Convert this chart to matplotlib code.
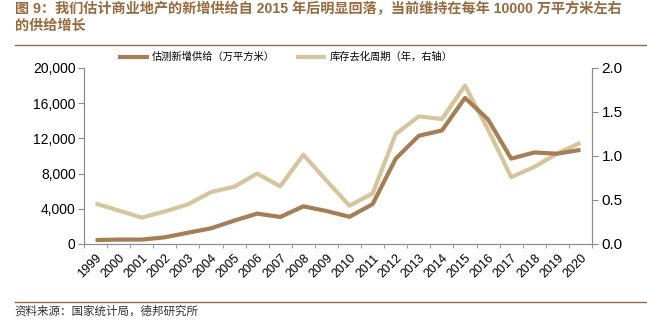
import numpy as np
import matplotlib.pyplot as plt
from matplotlib.ticker import FuncFormatter, FixedLocator

plt.rcParams['font.family'] = ['Liberation Sans', 'Noto Sans CJK SC', 'DejaVu Sans']

years = [str(y) for y in range(1999, 2021)]
# 估测新增供给（万平方米）
new_supply = [450, 500, 500, 760, 1280, 1780, 2650, 3450, 3070, 4280, 3750,
              3090, 4530, 9700, 12300, 12900, 16600, 14150, 9700, 10400, 10260, 10700]
# 库存去化周期（年）
destock_cycle = [0.46, 0.38, 0.30, 0.37, 0.45, 0.59, 0.65, 0.80, 0.655, 1.015, 0.72,
                 0.435, 0.575, 1.25, 1.45, 1.42, 1.80, 1.30, 0.76, 0.875, 1.03, 1.15]

title = "图 9：我们估计商业地产的新增供给自 2015 年后明显回落，当前维持在每年 10000 万平方米左右\n的供给增长"
source = "资料来源：国家统计局，德邦研究所"

brown = '#A87D52'
tan = '#D8C49B'
title_color = '#9A6A3C'
axis_gray = '#8C8C8C'
cjk = ['Noto Sans CJK SC', 'DejaVu Sans']

fig = plt.figure(figsize=(6.47, 3.23), dpi=100)
ax = fig.add_axes([0.1298, 0.2446, 0.7852, 0.5449])
ax2 = ax.twinx()

x = np.arange(len(years))
l1, = ax.plot(x, new_supply, color=brown, lw=3, solid_capstyle='butt',
              label='估测新增供给（万平方米）', zorder=3)
l2, = ax2.plot(x, destock_cycle, color=tan, lw=3, solid_capstyle='butt',
               label='库存去化周期（年，右轴）', zorder=2)
ax.set_zorder(ax2.get_zorder() + 1)
ax.patch.set_visible(False)

ax.set_xlim(-0.5, len(years) - 0.5)
ax.set_ylim(0, 20000)
ax2.set_ylim(0, 2.0)
ax.set_yticks(np.arange(0, 20001, 4000))
ax.yaxis.set_major_formatter(FuncFormatter(lambda v, p: f'{int(v):,}'))
ax2.set_yticks(np.arange(0, 2.01, 0.5))
ax2.yaxis.set_major_formatter(FuncFormatter(lambda v, p: f'{v:.1f}'))

# year labels at centres, tick marks on category boundaries
ax.set_xticks(x)
ax.set_xticklabels(years, rotation=45, ha='right', rotation_mode='anchor', fontsize=9)
ax.tick_params(axis='x', which='major', length=0, pad=6)
ax.xaxis.set_minor_locator(FixedLocator(np.arange(-0.5, len(years), 1)))
ax.tick_params(axis='x', which='minor', length=3, color=axis_gray)

ax.tick_params(axis='y', labelsize=10, length=4, color=axis_gray, pad=2)
ax2.tick_params(axis='y', labelsize=11, length=4, color=axis_gray, pad=3)

for a in (ax, ax2):
    a.spines['top'].set_visible(False)
    for s in ('left', 'right', 'bottom'):
        a.spines[s].set_color(axis_gray)
        a.spines[s].set_linewidth(0.8)

fig.legend(handles=[l1, l2], loc='center', bbox_to_anchor=(0.441, 0.823), ncol=2,
           frameon=False, prop={'family': cjk, 'size': 7.4}, handlelength=3.0,
           columnspacing=2.0, handletextpad=0.3)

fig.text(0.023, 0.995, title, ha='left', va='top', fontsize=10.2, fontweight='bold',
         color=title_color, linespacing=1.25, family=['Liberation Sans'] + cjk)
fig.add_artist(plt.Line2D([0.023, 1.0], [0.862, 0.862], color=title_color, lw=1))
fig.add_artist(plt.Line2D([0.023, 1.0], [0.065, 0.065], color=title_color, lw=1))
fig.text(0.023, 0.035, source, ha='left', va='center', fontsize=8.3, color='#333333',
         family=cjk)

fig.savefig('out.png', dpi=100)
